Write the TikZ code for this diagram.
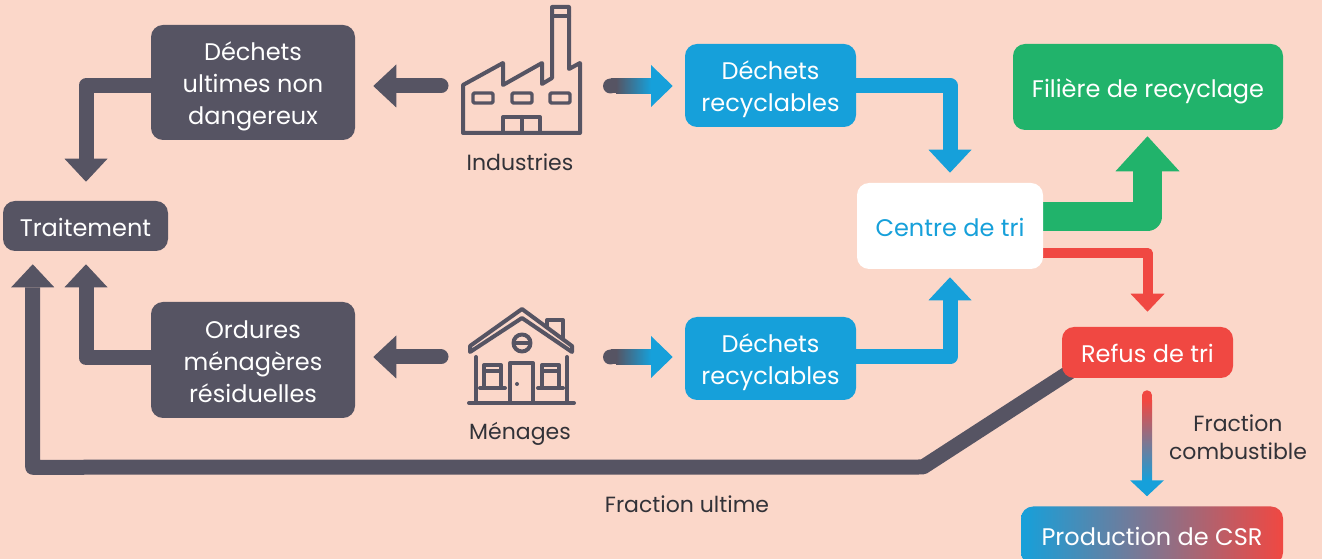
\documentclass[tikz,border=0pt]{standalone}
\usepackage{fontspec}
\setmainfont{Poppins}
\usetikzlibrary{arrows.meta,calc,backgrounds}
\definecolor{bgc}{RGB}{251,215,201}
\definecolor{dk}{RGB}{86,84,99}
\definecolor{bl}{RGB}{22,160,218}
\definecolor{gr}{RGB}{33,179,107}
\definecolor{rd}{RGB}{240,72,66}
\definecolor{tx}{RGB}{50,50,56}
\newcommand{\mltext}[1]{\raisebox{-3pt}[\height][\depth]{\begin{tabular}{@{}c@{}}#1\end{tabular}}}
\tikzset{
  box/.style={rounded corners=9pt, align=center, text=white, inner sep=0pt,
    font=\fontsize{18}{24}\selectfont},
  dbox/.style={box, fill=dk},
  bbox/.style={box, fill=bl},
  lbl/.style={text=tx, align=center, inner sep=0pt, font=\fontsize{16.5}{21}\selectfont},
  dflow/.style={draw=dk, line width=11.25pt, line join=round,
    -{Triangle[width=32.25pt,length=17.25pt,line width=0pt]}},
  bflow/.style={dflow, draw=bl},
  gflow/.style={draw=gr, line width=21.75pt, line join=round,
    -{Triangle[width=48pt,length=26.25pt,line width=0pt]}},
  rflow/.style={draw=rd, line width=7.5pt, line join=round,
    -{Triangle[width=25.5pt,length=13.5pt,line width=0pt]}},
  icon/.style={draw=dk, line width=3pt, line join=round, line cap=round},
}
\begin{document}
\begin{tikzpicture}[x=0.75pt,y=-0.75pt]
\useasboundingbox (0,0) rectangle (1322,559);
\clip (0,0) rectangle (1322,559);

% boxes
\node[dbox, minimum width=153pt, minimum height=86.25pt] (dund) at (253,82.5) {\mltext{Déchets\\ultimes non\\dangereux}};
\node[dbox, minimum width=123.75pt, minimum height=37.5pt] (trait) at (85.5,226) {\mltext{Traitement}};
\node[dbox, minimum width=153pt, minimum height=87pt] (ordures) at (253,360) {\mltext{Ordures\\ménagères\\résiduelles}};
\node[bbox, minimum width=128.25pt, minimum height=62.25pt] (rec1) at (770.5,85.5) {\mltext{Déchets\\recyclables}};
\node[bbox, minimum width=128.25pt, minimum height=62.25pt] (rec2) at (770.5,358.5) {\mltext{Déchets\\recyclables}};
\node[box, fill=white, text=bl, minimum width=139.5pt, minimum height=64.5pt] (centre) at (950,226) {\mltext{Centre de tri}};
\node[box, fill=gr, minimum width=202.5pt, minimum height=64.5pt] (filiere) at (1148,87) {\mltext{Filière de recyclage}};
\node[box, fill=rd, minimum width=128.25pt, minimum height=38.25pt] (refus) at (1147.5,352.5) {\mltext{Refus de tri}};
\node[box, left color=bl, middle color=dk, right color=rd, minimum width=196.5pt, minimum height=43.5pt] (csr) at (1152,535.5) {\mltext{Production de CSR}};

% labels
\node[lbl] (ind) at (520,162) {Industries};
\node[lbl] (men) at (520,434) {Ménages};
\node[lbl] (fult) at (687,504) {Fraction ultime};
\node[lbl] (fcomb) at (1238,437.5) {Fraction\\combustible};

% factory icon
\draw[icon] (463,133) -- (463,85) -- (503,63) -- (503,85) -- (542,63) -- (542,84) -- (552,78)
  -- (552,7) -- (569,7) -- (569,69) -- (580,63) -- (580,133) -- cycle;
\draw[icon] (552,16) -- (569,16);
\foreach \x in {473,512,550} \draw[icon, line width=2.6pt, rounded corners=1pt] (\x,93) rectangle ++(20,10);
\draw[icon] (503,133) -- (503,117) -- (540,117) -- (540,133);
\draw[icon] (522,117) -- (522,133);

% house icon
\draw[icon] (470,352) -- (470,346) -- (522,309) -- (572,346) -- (572,352) -- (522,318) -- cycle;
\draw[icon] (547,327) -- (547,320) -- (563,320) -- (563,338);
\draw[icon] (476,357) -- (476,403);
\draw[icon] (567,357) -- (567,403);
\draw[icon] (469,403) -- (574,403);
\draw[icon] (522,343) circle (8.5);
\draw[icon, line width=2.6pt] (514,343) -- (530,343);
\draw[icon] (510,403) -- (510,363) -- (533,363) -- (533,403);
\fill[dk] (517,384) circle (2);
\draw[icon] (484,388) -- (484,365) -- (501,365) -- (501,388);
\draw[icon, line width=2.4pt] (484,371) -- (501,371);
\draw[icon] (480,388) -- (505,388);
\draw[icon] (542,388) -- (542,365) -- (559,365) -- (559,388);
\draw[icon, line width=2.4pt] (542,371) -- (559,371);
\draw[icon] (538,388) -- (563,388);

% connectors
\coordinate (indL) at (441,86);
\coordinate (menL) at (441,357);
\coordinate (indR) at (610.5,86);
\coordinate (menR) at (610.5,357);
\coordinate (fu1) at ($(refus.south west)+(23,-16)$);
\coordinate (fu2) at (923,467);
\coordinate (fu3) at ($(trait.south west)+(30,216)$);
\coordinate (cs1) at ($(refus.south)+(-0.5,17)$);

\begin{scope}[on background layer]
\fill[bgc] (0,0) rectangle (1322,559);
\draw[dflow] ($(dund.west)+(0,3)$) -| ($(trait.north)+(0.5,-19)$);
\draw[dflow] ($(ordures.west)+(0,-2)$) -| ($(trait.south)+(0.5,13)$);
\draw[dflow] (fu1) -- (fu2) -- (fu3) -- ($(trait.south west)+(30,13)$);
\draw[dflow, line cap=round] (indL) -- ($(dund.east |- indL)+(18,0)$);
\draw[dflow, line cap=round] (menL) -- ($(ordures.east |- menL)+(18,0)$);
\draw[bflow] (rec1.east) -| ($(centre.north)+(0,-10)$);
\draw[bflow] ($(rec2.east)+(0,-1.5)$) -| ($(centre.south)+(0,8)$);
\draw[gflow] ($(centre.east)+(0,-9.5)$) -| ($(filiere.south)+(-0.5,6)$);
\draw[rflow] ($(centre.east)+(0,27)$) -| ($(refus.north)+(0,-15)$);
\end{scope}

% gradient arrows to recyclables
\foreach \c/\b in {indR/rec1, menR/rec2}{
  \fill[dk] (\c) circle (7.5);
  \fill[dk] ($(\c)+(0,-7.5)$) rectangle ($(\c)+(6,7.5)$);
  \shade[left color=dk, right color=bl] ($(\c)+(5.5,-7.5)$) rectangle ($(\c)+(40.5,7.5)$);
  \fill[bl] ($(\c)+(40.5,-21)$) -- ($(\b.west |- \c)+(-12,0)$) -- ($(\c)+(40.5,21)$) -- cycle;
}

% gradient arrow refus -> csr
\fill[rd] (cs1) circle (5);
\fill[rd] ($(cs1)+(-5,0)$) rectangle ($(cs1)+(5,6)$);
\shade[top color=rd, middle color=dk, bottom color=bl] ($(cs1)+(-5,5.5)$) rectangle ($(cs1)+(5,85)$);
\fill[bl] ($(cs1)+(-17,85)$) -- ($(csr.north)+(-5,-10)$) -- ($(cs1)+(17,85)$) -- cycle;
\end{tikzpicture}
\end{document}
